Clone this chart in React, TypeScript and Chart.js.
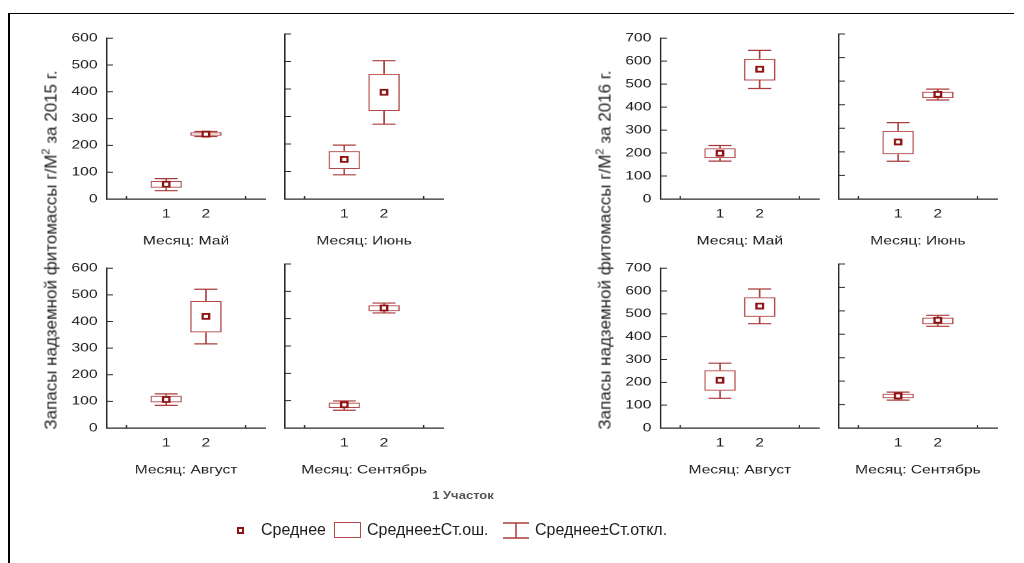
import React, { useEffect, useRef } from 'react';
import { Chart, registerables } from 'chart.js';

Chart.register(...registerables);

// ---------- data ----------
const CATEGORIES = [1, 2];
const MONTHS = ['Май', 'Июнь', 'Август', 'Сентябрь'];
const Y_TICKS_2015 = [0, 100, 200, 300, 400, 500, 600];
const Y_TICKS_2016 = [0, 100, 200, 300, 400, 500, 600, 700];
const X_TICK_MARKS = [0, 3];

// per month: [участок 1, участок 2]
const MEAN_2015 = [[55, 242], [144, 388], [107, 419], [85, 439]];
const SE_LOW_2015 = [[42, 236], [109, 320], [96, 359], [73, 427]];
const SE_HIGH_2015 = [[67, 249], [174, 455], [121, 477], [93, 449]];
const SD_LOW_2015 = [[31, 233], [88, 272], [85, 316], [65, 421]];
const SD_HIGH_2015 = [[76, 252], [196, 503], [128, 521], [99, 457]];

const MEAN_2016 = [[199, 565], [242, 444], [209, 534], [137, 460]];
const SE_LOW_2016 = [[178, 516], [190, 428], [163, 487], [127, 443]];
const SE_HIGH_2016 = [[221, 610], [289, 455], [253, 573], [146, 471]];
const SD_LOW_2016 = [[165, 481], [160, 420], [130, 457], [119, 434]];
const SD_HIGH_2016 = [[233, 647], [324, 466], [284, 609], [153, 481]];

// ---------- style / layout ----------
const S = 1.3; // horizontal stretch of the panel images
const FONT = '"Liberation Sans", Arial, Helvetica, sans-serif';
const TEXT = '#1e1e1e';
const AXIS = '#2a2a2a';
const BOX = '#b24a4a';
const WHISKER = '#a83b3b';
const MEAN = '#8e1414';
const CAP_HALF = 0.29;

const PLOT_LEFT: Record<number, number[]> = { 2015: [107, 285], 2016: [660, 839] };
const ROW_TOP = [34, 264];
const ROW_H = [165, 164];
const PLOT_W = 162;

function Panel({ year, m }: { year: number; m: number }) {
  const ref = useRef<HTMLCanvasElement | null>(null);
  const col = m % 2;
  const row = Math.floor(m / 2);
  const YW = col === 0 ? 40 : 8;
  const PT = 10;
  const XH = 49.2;
  const plotLeft = PLOT_LEFT[year][col] / S;
  const plotW = PLOT_W / S;
  const h = ROW_H[row];
  const cw = Math.ceil(YW + plotW + 3);
  const padR = cw - YW - plotW;
  const ch = Math.ceil(PT + h + XH + 1);
  const padB = ch - PT - h - XH;
  const cl = plotLeft - YW;
  const ct = ROW_TOP[row] - PT;

  useEffect(() => {
    const is15 = year === 2015;
    const mean = (is15 ? MEAN_2015 : MEAN_2016)[m];
    const seLo = (is15 ? SE_LOW_2015 : SE_LOW_2016)[m];
    const seHi = (is15 ? SE_HIGH_2015 : SE_HIGH_2016)[m];
    const sdLo = (is15 ? SD_LOW_2015 : SD_LOW_2016)[m];
    const sdHi = (is15 ? SD_HIGH_2015 : SD_HIGH_2016)[m];
    const yTicks = is15 ? Y_TICKS_2015 : Y_TICKS_2016;

    const plugin = {
      id: 'statbox',
      beforeDatasetsDraw(chart: any) {
        const { ctx } = chart;
        const x = chart.scales.x;
        const y = chart.scales.y;
        ctx.save();
        ctx.strokeStyle = WHISKER;
        ctx.lineWidth = 1.2;
        CATEGORIES.forEach((c, i) => {
          const xc = x.getPixelForValue(c);
          const xl = x.getPixelForValue(c - CAP_HALF);
          const xr = x.getPixelForValue(c + CAP_HALF);
          const yTop = y.getPixelForValue(sdHi[i]);
          const yBoxTop = y.getPixelForValue(seHi[i]);
          const yBoxBot = y.getPixelForValue(seLo[i]);
          const yBot = y.getPixelForValue(sdLo[i]);
          ctx.beginPath();
          ctx.moveTo(xc, yTop);
          ctx.lineTo(xc, yBoxTop);
          ctx.moveTo(xc, yBoxBot);
          ctx.lineTo(xc, yBot);
          ctx.moveTo(xl, yTop);
          ctx.lineTo(xr, yTop);
          ctx.moveTo(xl, yBot);
          ctx.lineTo(xr, yBot);
          ctx.stroke();
        });
        ctx.restore();
      },
      afterDraw(chart: any) {
        const { ctx, chartArea } = chart;
        const x = chart.scales.x;
        const y = chart.scales.y;
        ctx.save();
        ctx.strokeStyle = AXIS;
        ctx.lineWidth = 1;
        ctx.beginPath();
        yTicks.forEach((v) => {
          const py = y.getPixelForValue(v);
          ctx.moveTo(chartArea.left, py);
          ctx.lineTo(chartArea.left + 5, py);
        });
        X_TICK_MARKS.forEach((v) => {
          const px = x.getPixelForValue(v);
          ctx.moveTo(px, chartArea.bottom);
          ctx.lineTo(px, chartArea.bottom - 3);
        });
        ctx.stroke();
        ctx.restore();
      },
    };

    const chart = new Chart(ref.current as HTMLCanvasElement, {
      type: 'bar',
      data: {
        datasets: [
          {
            type: 'scatter',
            data: CATEGORIES.map((c, i) => ({ x: c, y: mean[i] })),
            pointStyle: 'rect',
            pointRadius: 3.5,
            pointBorderWidth: 1.8,
            pointBackgroundColor: '#ffffff',
            pointBorderColor: MEAN,
            order: 0,
          } as any,
          {
            type: 'bar',
            data: CATEGORIES.map((c, i) => ({ x: c, y: [seLo[i], seHi[i]] })),
            backgroundColor: 'rgba(255,255,255,0)',
            borderColor: BOX,
            borderWidth: 1,
            borderSkipped: false,
            barPercentage: 0.79,
            categoryPercentage: 1,
            grouped: false,
            order: 1,
          } as any,
        ],
      },
      plugins: [plugin],
      options: {
        responsive: false,
        maintainAspectRatio: false,
        animation: false,
        devicePixelRatio: 2,
        events: [],
        layout: { padding: { top: PT, right: padR, bottom: padB, left: 0 } },
        plugins: {
          legend: { display: false },
          tooltip: { enabled: false },
          title: { display: false },
        },
        scales: {
          x: {
            type: 'linear',
            min: -0.5,
            max: 3.5,
            offset: false,
            grid: { display: false, offset: false, drawTicks: false, tickLength: 0 },
            border: { display: true, color: AXIS, width: 1.2 },
            afterBuildTicks: (s: any) => {
              s.ticks = CATEGORIES.map((v) => ({ value: v }));
            },
            ticks: {
              padding: 8,
              autoSkip: false,
              maxRotation: 0,
              color: TEXT,
              font: { family: FONT, size: 12 },
            },
            title: {
              display: true,
              text: 'Месяц: ' + MONTHS[m],
              color: TEXT,
              font: { family: FONT, size: 12 },
              padding: 0,
            },
            afterFit: (s: any) => {
              s.height = XH;
            },
          },
          y: {
            type: 'linear',
            min: 0,
            max: yTicks[yTicks.length - 1],
            grid: { display: false, drawTicks: false, tickLength: 0 },
            border: { display: true, color: AXIS, width: 1.2 },
            ticks: {
              display: col === 0,
              stepSize: 100,
              padding: 7,
              color: TEXT,
              font: { family: FONT, size: 12 },
            },
            afterFit: (s: any) => {
              s.width = YW;
            },
          },
        } as any,
      },
    });
    return () => chart.destroy();
  }, []);

  return (
    <canvas
      ref={ref}
      width={cw}
      height={ch}
      style={{ position: 'absolute', left: cl, top: ct, width: cw, height: ch }}
    />
  );
}

function YTitle({ year, cx }: { year: number; cx: number }) {
  return (
    <div
      style={{
        position: 'absolute',
        left: cx,
        top: 250,
        transform: 'translate(-50%, -50%) rotate(-90deg)',
        whiteSpace: 'nowrap',
        fontFamily: FONT,
        fontSize: 17,
        color: TEXT,
        lineHeight: '20px',
      }}
    >
      Запасы надземной фитомассы г/М
      <span style={{ fontSize: 11, position: 'relative', top: -7 }}>2</span> за {year} г.
    </div>
  );
}

export default function App() {
  const panels: { year: number; m: number }[] = [];
  [2015, 2016].forEach((year) => MONTHS.forEach((_, m) => panels.push({ year, m })));
  return (
    <div
      style={{
        position: 'absolute',
        left: 0,
        top: 0,
        width: 1024,
        height: 563,
        overflow: 'hidden',
        background: '#ffffff',
      }}
    >
      {/* frame */}
      <div style={{ position: 'absolute', left: 8, top: 13, width: 2, height: 560, background: '#000' }} />
      <div style={{ position: 'absolute', left: 8, top: 13, width: 1006, height: 1, background: '#000' }} />

      {/* stretched panel area */}
      <div
        style={{
          position: 'absolute',
          left: 0,
          top: 0,
          width: 1024 / S,
          height: 563,
          transform: `scaleX(${S})`,
          transformOrigin: '0 0',
        }}
      >
        {panels.map((p) => (
          <Panel key={`${p.year}-${p.m}`} year={p.year} m={p.m} />
        ))}
        <div
          style={{
            position: 'absolute',
            left: 463 / S,
            top: 495,
            transform: 'translate(-50%, -50%)',
            fontFamily: FONT,
            fontWeight: 'bold',
            fontSize: 10,
            color: '#555',
            whiteSpace: 'nowrap',
          }}
        >
          1 Участок
        </div>
      </div>

      <YTitle year={2015} cx={52} />
      <YTitle year={2016} cx={606} />

      {/* legend */}
      <div style={{ position: 'absolute', left: 0, top: 0, fontFamily: FONT, fontSize: 16, color: TEXT }}>
        <div
          style={{
            position: 'absolute',
            left: 237,
            top: 527,
            width: 7,
            height: 7,
            border: `2px solid ${MEAN}`,
            boxSizing: 'border-box',
            background: '#fff',
          }}
        />
        <div style={{ position: 'absolute', left: 261, top: 521, lineHeight: '18px', whiteSpace: 'nowrap' }}>Среднее</div>
        <div
          style={{
            position: 'absolute',
            left: 334,
            top: 522,
            width: 27,
            height: 16,
            border: `1.5px solid ${BOX}`,
            boxSizing: 'border-box',
          }}
        />
        <div style={{ position: 'absolute', left: 367, top: 521, lineHeight: '18px', whiteSpace: 'nowrap' }}>
          Среднее±Ст.ош.
        </div>
        <svg style={{ position: 'absolute', left: 502, top: 521 }} width={28} height={19}>
          <line x1={1} y1={2} x2={27} y2={2} stroke={WHISKER} strokeWidth={1.5} />
          <line x1={1} y1={17} x2={27} y2={17} stroke={WHISKER} strokeWidth={1.5} />
          <line x1={14} y1={2} x2={14} y2={17} stroke={WHISKER} strokeWidth={1.5} />
        </svg>
        <div style={{ position: 'absolute', left: 535, top: 521, lineHeight: '18px', whiteSpace: 'nowrap' }}>
          Среднее±Ст.откл.
        </div>
      </div>
    </div>
  );
}
